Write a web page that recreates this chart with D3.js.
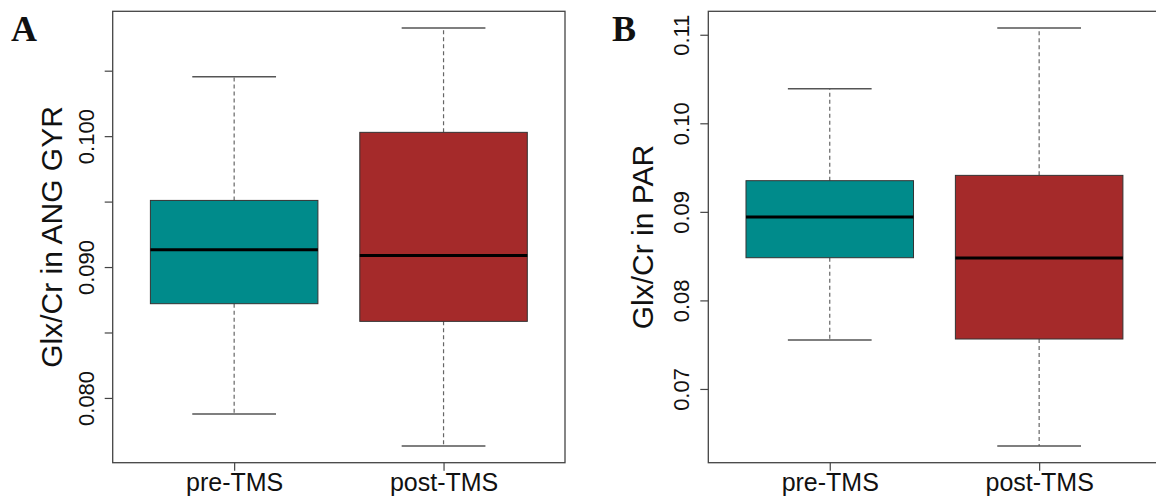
<!DOCTYPE html>
<html>
<head>
<meta charset="utf-8">
<script src="https://cdn.jsdelivr.net/npm/d3@7"></script>
<style>
  body { margin: 0; background: #fff; }
  svg { display: block; font-family: 'Liberation Sans', Arial, sans-serif; }
</style>
</head>
<body>
<svg id="chart"></svg>
<script>
// groups and fills (R: cyan4 / brown)
const groups = ['pre-TMS', 'post-TMS'];
const boxColors = ['#008b8b', '#a52a2a'];

// Panel A - Glx/Cr in ANG GYR
const angLow = [0.07878, 0.07633];
const angQ1 = [0.08720, 0.08585];
const angMedian = [0.09133, 0.09089];
const angQ3 = [0.09509, 0.10029];
const angHigh = [0.10454, 0.10826];
const angTicks = [0.080, 0.085, 0.090, 0.095, 0.100, 0.105];
const angTickLabels = ['0.080', '', '0.090', '', '0.100', ''];

// Panel B - Glx/Cr in PAR
const parLow = [0.07553, 0.06356];
const parQ1 = [0.08482, 0.07564];
const parMedian = [0.08942, 0.08479];
const parQ3 = [0.09352, 0.09412];
const parHigh = [0.10390, 0.11076];
const parTicks = [0.07, 0.08, 0.09, 0.10, 0.11];
const parTickLabels = ['0.07', '0.08', '0.09', '0.10', '0.11'];

const width = 1156;
const height = 497;

const svg = d3.select('#chart')
    .attr('width', width)
    .attr('height', height);

function drawPanel(cfg) {
    const g = svg.append('g');

    // x like R boxplot: groups at 1..n, range extended by 4%
    const x = d3.scaleLinear()
        .domain([0.42, 2.58])
        .range([cfg.left, cfg.right]);

    const lo = d3.min(cfg.low), hi = d3.max(cfg.high);
    const pad = (hi - lo) * 0.04;
    const y = d3.scaleLinear()
        .domain([lo - pad, hi + pad])
        .range([cfg.bottom, cfg.top]);

    const rows = groups.map((name, i) => ({
        name: name,
        pos: i + 1,
        low: cfg.low[i],
        q1: cfg.q1[i],
        med: cfg.median[i],
        q3: cfg.q3[i],
        high: cfg.high[i],
        fill: boxColors[i]
    }));

    const box = g.selectAll('.box')
        .data(rows)
        .enter().append('g')
        .attr('class', 'box');

    // whiskers (dashed)
    box.append('line')
        .attr('x1', d => x(d.pos)).attr('x2', d => x(d.pos))
        .attr('y1', d => y(d.q3)).attr('y2', d => y(d.high))
        .attr('stroke', '#666').attr('stroke-width', 1.2)
        .attr('stroke-dasharray', '4,3');
    box.append('line')
        .attr('x1', d => x(d.pos)).attr('x2', d => x(d.pos))
        .attr('y1', d => y(d.q1)).attr('y2', d => y(d.low))
        .attr('stroke', '#666').attr('stroke-width', 1.2)
        .attr('stroke-dasharray', '4,3');

    // staples
    box.append('line')
        .attr('x1', d => x(d.pos - 0.2)).attr('x2', d => x(d.pos + 0.2))
        .attr('y1', d => y(d.high)).attr('y2', d => y(d.high))
        .attr('stroke', '#555').attr('stroke-width', 1.5);
    box.append('line')
        .attr('x1', d => x(d.pos - 0.2)).attr('x2', d => x(d.pos + 0.2))
        .attr('y1', d => y(d.low)).attr('y2', d => y(d.low))
        .attr('stroke', '#555').attr('stroke-width', 1.5);

    // boxes
    box.append('rect')
        .attr('x', d => x(d.pos - 0.4))
        .attr('width', d => x(d.pos + 0.4) - x(d.pos - 0.4))
        .attr('y', d => y(d.q3))
        .attr('height', d => y(d.q1) - y(d.q3))
        .attr('fill', d => d.fill)
        .attr('stroke', '#333')
        .attr('stroke-width', 1);

    // medians
    box.append('line')
        .attr('x1', d => x(d.pos - 0.4)).attr('x2', d => x(d.pos + 0.4))
        .attr('y1', d => y(d.med)).attr('y2', d => y(d.med))
        .attr('stroke', '#000').attr('stroke-width', 3);

    // frame
    g.append('rect')
        .attr('x', cfg.left).attr('y', cfg.top)
        .attr('width', cfg.right - cfg.left)
        .attr('height', cfg.bottom - cfg.top)
        .attr('fill', 'none')
        .attr('stroke', '#444')
        .attr('stroke-width', 1.3);

    // y axis
    const yAxis = g.append('g')
        .attr('transform', `translate(${cfg.left}, 0)`)
        .call(d3.axisLeft(y)
            .tickValues(cfg.ticks)
            .tickFormat((d, i) => cfg.tickLabels[i])
            .tickSize(8));
    yAxis.select('.domain').remove();
    yAxis.selectAll('.tick line').attr('stroke', '#444').attr('stroke-width', 1.2);
    yAxis.selectAll('.tick text')
        .attr('transform', 'rotate(-90)')
        .attr('x', 0)
        .attr('y', -19)
        .attr('dy', 0)
        .style('text-anchor', 'middle')
        .style('font-size', '22px')
        .style('font-family', "'Liberation Sans', Arial, sans-serif")
        .attr('fill', '#111');

    // x axis
    const xAxis = g.append('g')
        .attr('transform', `translate(0, ${cfg.bottom})`)
        .call(d3.axisBottom(x)
            .tickValues([1, 2])
            .tickFormat((d, i) => groups[i])
            .tickSize(8));
    xAxis.select('.domain').remove();
    xAxis.selectAll('.tick line').attr('stroke', '#444').attr('stroke-width', 1.2);
    xAxis.selectAll('.tick text')
        .attr('y', 28)
        .attr('dy', 0)
        .style('font-size', '25px')
        .style('font-family', "'Liberation Sans', Arial, sans-serif")
        .attr('fill', '#111');

    // y axis title
    g.append('text')
        .text(cfg.title)
        .attr('transform', `translate(${cfg.titleX}, ${(cfg.top + cfg.bottom) / 2}) rotate(-90)`)
        .style('text-anchor', 'middle')
        .style('font-size', '30px')
        .attr('fill', '#111');

    // panel letter
    g.append('text')
        .text(cfg.letter)
        .attr('x', cfg.letterX)
        .attr('y', 41)
        .style('font-family', "'Liberation Serif', 'Times New Roman', serif")
        .style('font-weight', 'bold')
        .style('font-size', '36px')
        .attr('fill', '#111');
}

drawPanel({
    left: 112.7, right: 565, top: 11.3, bottom: 462.7,
    low: angLow, q1: angQ1, median: angMedian, q3: angQ3, high: angHigh,
    ticks: angTicks, tickLabels: angTickLabels,
    title: 'Glx/Cr in ANG GYR', titleX: 62,
    letter: 'A', letterX: 11
});

drawPanel({
    left: 708.3, right: 1160.6, top: 11.3, bottom: 462.7,
    low: parLow, q1: parQ1, median: parMedian, q3: parQ3, high: parHigh,
    ticks: parTicks, tickLabels: parTickLabels,
    title: 'Glx/Cr in PAR', titleX: 653,
    letter: 'B', letterX: 612
});
</script>
</body>
</html>
